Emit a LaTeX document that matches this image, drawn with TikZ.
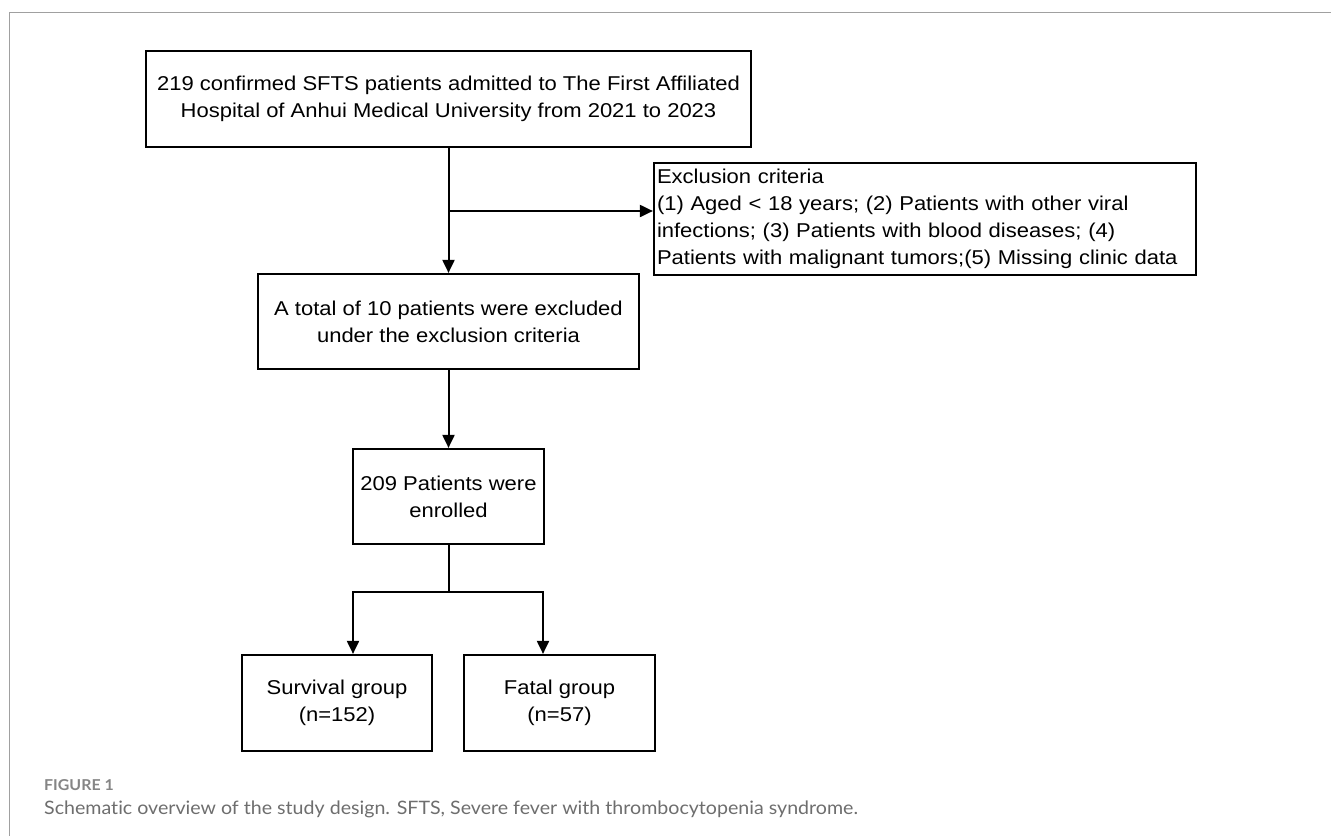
\documentclass[tikz,border=0pt]{standalone}
\usepackage{fontspec}
\setmainfont{Liberation Sans}
\newfontfamily\boxfont[FakeStretch=1.1]{Liberation Sans}
\newfontfamily\capfont[Ligatures=NoCommon,FakeStretch=1.06]{Lato}
\usetikzlibrary{arrows.meta,calc}
\definecolor{capgray}{HTML}{6E6E6E}
\definecolor{figgray}{HTML}{858585}
\definecolor{framegray}{HTML}{A0A0A0}
\tikzset{
  flowbox/.style={draw=black, line width=2.2pt, inner sep=0pt, align=center,
    font=\boxfont\fontsize{20}{27}\selectfont},
  flowarrow/.style={line width=2pt, -{Triangle[length=13pt,width=12pt]}},
  flowline/.style={line width=2pt},
}
\begin{document}
\begin{tikzpicture}[x=1pt,y=-1pt]
\useasboundingbox (0,0) rectangle (1331,836);
\fill[white] (0,0) rectangle (1331,836);
\draw[framegray, line width=1pt] (9,836) -- (9,12) -- (1331,12);

\node[flowbox, minimum width=605pt, minimum height=96pt] (b1) at (448.5,99)
  {219 confirmed SFTS patients admitted to The First Affiliated\\Hospital of Anhui Medical University from 2021 to 2023};
\node[flowbox, minimum width=542pt, minimum height=112pt, text width=536pt, align=left, inner xsep=3pt] (ex) at (925,219)
  {Exclusion criteria\\(1) Aged < 18 years; (2) Patients with other viral\\infections; (3) Patients with blood diseases; (4)\\Patients with malignant tumors;(5) Missing clinic data};
\node[flowbox, minimum width=381pt, minimum height=95pt] (b2) at (448.5,321.5)
  {A total of 10 patients were excluded\\under the exclusion criteria};
\node[flowbox, minimum width=191pt, minimum height=95pt] (b3) at (448.5,496.5)
  {209 Patients were\\enrolled};
\node[flowbox, minimum width=190pt, minimum height=96pt] (b4) at (337,703)
  {Survival group\\(n=152)};
\node[flowbox, minimum width=191pt, minimum height=96pt] (b5) at (559.5,703)
  {Fatal group\\(n=57)};

\coordinate (br) at (448.5,211);
\coordinate (j) at (448.5,592);
\coordinate (jl) at (353,592);
\coordinate (jr) at (543,592);

\draw[flowarrow] (b1.south) -- (b2.north);
\draw[flowarrow] (br) -- (ex.west |- br);
\draw[flowarrow] (b2.south) -- (b3.north);
\draw[flowline] (b3.south) -- (j);
\draw[flowline, line cap=rect] (jl) -- (jr);
\draw[flowarrow] (jl) -- (jl |- b4.north);
\draw[flowarrow] (jr) -- (jr |- b5.north);

\node[anchor=base west, inner sep=0pt, text=figgray, font=\capfont\bfseries\fontsize{15}{17}\selectfont] (fig) at (44,790) {FIGURE 1};
\node[anchor=base west, inner sep=0pt, text=capgray, font=\capfont\fontsize{18.5}{22}\selectfont] (cap) at (44,814) {Schematic overview of the study design. SFTS, Severe fever with thrombocytopenia syndrome.};
\end{tikzpicture}
\end{document}
